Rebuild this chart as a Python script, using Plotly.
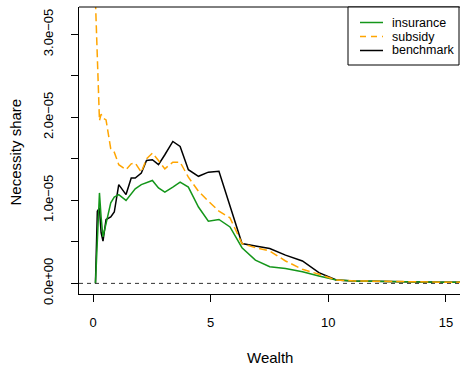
import plotly.graph_objects as go

# Necessity share by wealth level for three policy scenarios (units of 1e-5)
wealth = [0.1, 0.18, 0.27, 0.34, 0.42, 0.55, 0.75, 0.9, 1.09, 1.4, 1.62, 1.79,
          2.05, 2.27, 2.52, 2.78, 3.05, 3.39, 3.7, 4.05, 4.48, 4.9, 5.35, 5.82,
          6.33, 6.9, 7.51, 8.18, 8.9, 9.6, 10.34, 11.1, 11.9, 12.8, 13.7, 14.7, 15.7]
insurance = [0.0, 0.62, 1.09, 0.80, 0.56, 0.72, 0.97, 1.04, 1.07, 1.00, 1.08, 1.14,
             1.19, 1.21, 1.24, 1.15, 1.10, 1.16, 1.22, 1.16, 0.92, 0.75, 0.77, 0.68,
             0.43, 0.28, 0.20, 0.18, 0.14, 0.09, 0.04, 0.03, 0.025, 0.02, 0.018, 0.015, 0.012]
subsidy = [3.4, 2.65, 1.96, 2.04, 1.99, 1.97, 1.62, 1.58, 1.43, 1.37, 1.44, 1.45,
           1.34, 1.50, 1.57, 1.48, 1.38, 1.46, 1.46, 1.28, 1.11, 0.99, 0.87, 0.79,
           0.48, 0.43, 0.39, 0.27, 0.17, 0.11, 0.04, 0.03, 0.025, 0.02, 0.018, 0.015, 0.012]
benchmark = [0.0, 0.87, 0.91, 0.61, 0.51, 0.77, 0.80, 0.86, 1.19, 1.07, 1.27, 1.27,
             1.33, 1.48, 1.49, 1.43, 1.55, 1.71, 1.65, 1.37, 1.29, 1.34, 1.35, 0.93,
             0.48, 0.45, 0.42, 0.34, 0.27, 0.13, 0.04, 0.03, 0.025, 0.02, 0.018, 0.015, 0.012]
UNIT = 1e-5

x_ticks = [0, 5, 10, 15]
y_ticks = [0, 0.5e-5, 1.0e-5, 1.5e-5, 2.0e-5, 2.5e-5, 3.0e-5]
y_tick_text = ["0.0e+00", "", "1.0e\u221205", "", "2.0e\u221205", "", "3.0e\u221205"]

GREEN, ORANGE, BLACK = "#14961a", "#FFA500", "#000000"

W, H = 460, 366
ML, MR, MT, MB = 79, 0, 7, 72
PW, PH = W - ML - MR, H - MT - MB
FONT = "Liberation Sans, Arial, sans-serif"


def px_x(p):
    return (p - ML) / PW


def px_y(p):
    return (H - MB - p) / PH


fig = go.Figure()
# drawing order: benchmark underneath, subsidy dashes on top
fig.add_trace(go.Scatter(x=wealth, y=[v * UNIT for v in benchmark], mode="lines",
                         line=dict(color=BLACK, width=1.5), name="benchmark"))
fig.add_trace(go.Scatter(x=wealth, y=[v * UNIT for v in insurance], mode="lines",
                         line=dict(color=GREEN, width=1.5), name="insurance"))
fig.add_trace(go.Scatter(x=wealth, y=[v * UNIT for v in subsidy], mode="lines",
                         line=dict(color=ORANGE, width=1.5, dash="8px,4px"), name="subsidy"))

shapes = [
    # zero reference line
    dict(type="line", xref="paper", yref="y", x0=0, x1=1, y0=0, y1=0,
         line=dict(color="#333333", width=1, dash="4px,4px")),
    # top edge of the plot frame
    dict(type="line", xref="paper", yref="paper", x0=0, x1=1, y0=1, y1=1,
         line=dict(color="#000000", width=1)),
    # legend frame
    dict(type="rect", xref="paper", yref="paper",
         x0=px_x(348), x1=px_x(459), y0=px_y(65), y1=px_y(7),
         line=dict(color="#000000", width=1), fillcolor="white"),
]
annotations = []
legend_rows = [("insurance", GREEN, "solid", 22.5),
               ("subsidy", ORANGE, "6px,5px", 36.5),
               ("benchmark", BLACK, "solid", 50.5)]
for label, color, dash, ypix in legend_rows:
    shapes.append(dict(type="line", xref="paper", yref="paper",
                       x0=px_x(360), x1=px_x(383), y0=px_y(ypix), y1=px_y(ypix),
                       line=dict(color=color, width=1.5, dash=dash)))
    annotations.append(dict(text=label, xref="paper", yref="paper",
                            x=px_x(391), y=px_y(ypix), xanchor="left", yanchor="middle",
                            showarrow=False, borderpad=0,
                            font=dict(family=FONT, size=12.5, color="black")))

annotations.append(dict(text="Wealth", xref="paper", yref="paper",
                        x=px_x(269.5), y=px_y(357.5), xanchor="center", yanchor="middle",
                        showarrow=False, borderpad=0,
                        font=dict(family=FONT, size=15, color="black")))
annotations.append(dict(text="Necessity share", xref="paper", yref="paper",
                        x=px_x(15), y=px_y(152.5), xanchor="center", yanchor="middle",
                        textangle=-90, showarrow=False, borderpad=0,
                        font=dict(family=FONT, size=15, color="black")))

fig.update_layout(
    width=W, height=H,
    margin=dict(l=ML, r=MR, t=MT, b=MB, pad=0),
    plot_bgcolor="white", paper_bgcolor="white",
    showlegend=False,
    shapes=shapes, annotations=annotations,
    font=dict(family=FONT, size=13, color="black"),
)
fig.update_xaxes(range=[-0.6, 15.6], tickvals=x_ticks, ticktext=[str(t) for t in x_ticks],
                 showgrid=False, zeroline=False, showline=True, linecolor="black",
                 linewidth=1, ticks="outside", ticklen=7, tickwidth=1, tickcolor="black",
                 ticklabelstandoff=9,
                 tickfont=dict(family=FONT, size=13, color="black"))
fig.update_yaxes(range=[-1.28e-6, 3.33e-5], tickvals=y_ticks, ticktext=y_tick_text,
                 tickangle=-90, showgrid=False, zeroline=False, showline=True,
                 linecolor="black", linewidth=1, ticks="outside", ticklen=7, tickwidth=1,
                 tickcolor="black", ticklabelstandoff=13,
                 tickfont=dict(family=FONT, size=13, color="black"))

fig.write_html("out.html")
